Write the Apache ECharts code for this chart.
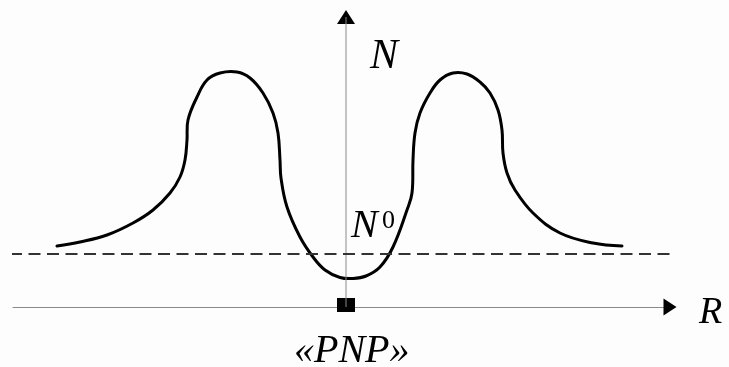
<!DOCTYPE html>
<html>
<head>
<meta charset="utf-8">
<script src="https://cdn.jsdelivr.net/npm/echarts@6/dist/echarts.min.js"></script>
<style>
  html, body { margin: 0; padding: 0; background: #fefdfe; }
  #chart { width: 729px; height: 367px; }
</style>
</head>
<body>
<div id="chart"></div>
<script>
// profile N(R), arbitrary units
const curveR = [-28.9, -26.6, -23.9, -21.3, -19.3, -17.6, -16.6, -16.1, -15.9, -15.8, -14.9, -13.9, -12.6, -10.9,
  -9.6, -8.3, -7.3, -6.8, -6.6, -6.5, -5.9, -4.6, -3.3, -2.1, -0.6, 0.7, 2.0, 3.4, 4.7, 6.1,
  6.6, 6.7, 6.9, 7.4, 8.4, 9.4, 10.7, 12.1, 13.4, 14.4, 15.2, 15.6, 15.7, 16.1, 16.9,
  18.7, 21.4, 24.7, 27.6]
const curveN = [6.1, 6.5, 7.2, 8.4, 9.7, 11.4, 13.0, 14.7, 16.7, 18.7, 21.0, 22.7, 23.4, 23.5,
  22.9, 21.4, 19.4, 17.4, 14.7, 12.9, 10.0, 7.0, 5.0, 3.7, 2.95, 2.85, 3.1, 4.0, 6.0, 9.7,
  11.4, 14.7, 17.4, 19.4, 21.4, 22.7, 23.4, 23.3, 22.5, 21.4, 19.7, 17.7, 15.4, 13.4, 11.7,
  9.4, 7.4, 6.4, 6.1]
// level N0 (dashed)
const levelR = [-33.6, 33.1]
const levelN = 5.3
// axis ranges
const rMin = -33.3, rMax = 32.4
const nMin = 0, nMax = 29.0

const chart = echarts.init(document.getElementById('chart'))
const serif = "'Liberation Serif', 'Times New Roman', 'DejaVu Serif', serif"

function label(text, left, top, size, italic) {
  return {
    type: 'text', left: left, top: top,
    style: {
      text: text, fill: '#000',
      fontFamily: serif, fontSize: size, fontStyle: italic ? 'italic' : 'normal'
    }
  }
}

// whole curve as one smooth polyline (plain bezier smoothing, no clamping)
function renderCurve(params, api) {
  const pts = curveR.map((r, i) => api.coord([r, curveN[i]]))
  return {
    type: 'polyline',
    shape: { points: pts, smooth: 0.4 },
    style: { stroke: '#000', lineWidth: 3, fill: null, lineJoin: 'round', lineCap: 'round' },
    silent: true
  }
}

chart.setOption({
  backgroundColor: '#fefdfe',
  animation: false,
  grid: { left: 13, right: 59, top: 17, bottom: 60 },
  xAxis: {
    type: 'value', min: rMin, max: rMax,
    axisLine: { onZero: false, lineStyle: { color: '#8a8a8a', width: 1 } },
    axisTick: { show: false }, axisLabel: { show: false }, splitLine: { show: false }
  },
  yAxis: {
    type: 'value', min: nMin, max: nMax,
    axisLine: { show: false },
    axisTick: { show: false }, axisLabel: { show: false }, splitLine: { show: false }
  },
  series: [
    {
      // vertical axis through R = 0
      type: 'line',
      data: [[0, nMin], [0, nMax]],
      symbol: 'none',
      lineStyle: { color: '#8a8a8a', width: 1 },
      silent: true
    },
    {
      type: 'line',
      data: levelR.map(r => [r, levelN]),
      symbol: 'none',
      clip: false,
      lineStyle: { color: '#333', width: 2, type: [12, 6.5] },
      silent: true
    },
    {
      type: 'custom',
      renderItem: renderCurve,
      data: [[curveR[0], curveN[0]]],
      silent: true
    },
    {
      // arrow heads
      type: 'scatter',
      clip: false,
      silent: true,
      itemStyle: { color: '#000', opacity: 1 },
      data: [
        { value: [0, nMax], symbol: 'triangle', symbolSize: [18, 14] },
        { value: [rMax, 0], symbol: 'triangle', symbolSize: [17, 13], symbolRotate: -90 }
      ]
    },
    {
      // «PNP» marker
      type: 'scatter',
      silent: true,
      clip: false,
      symbol: 'rect',
      symbolSize: [18, 14],
      itemStyle: { color: '#000', opacity: 1 },
      data: [[0, 0.2]]
    }
  ],
  graphic: [
    label('N', 370, 36, 42, true),
    label('N', 351, 206, 40, true),
    label('0', 382, 208, 26, false),
    label('«PNP»', 294, 331, 40, true),
    label('R', 699, 294, 38, true)
  ]
})
</script>
</body>
</html>
